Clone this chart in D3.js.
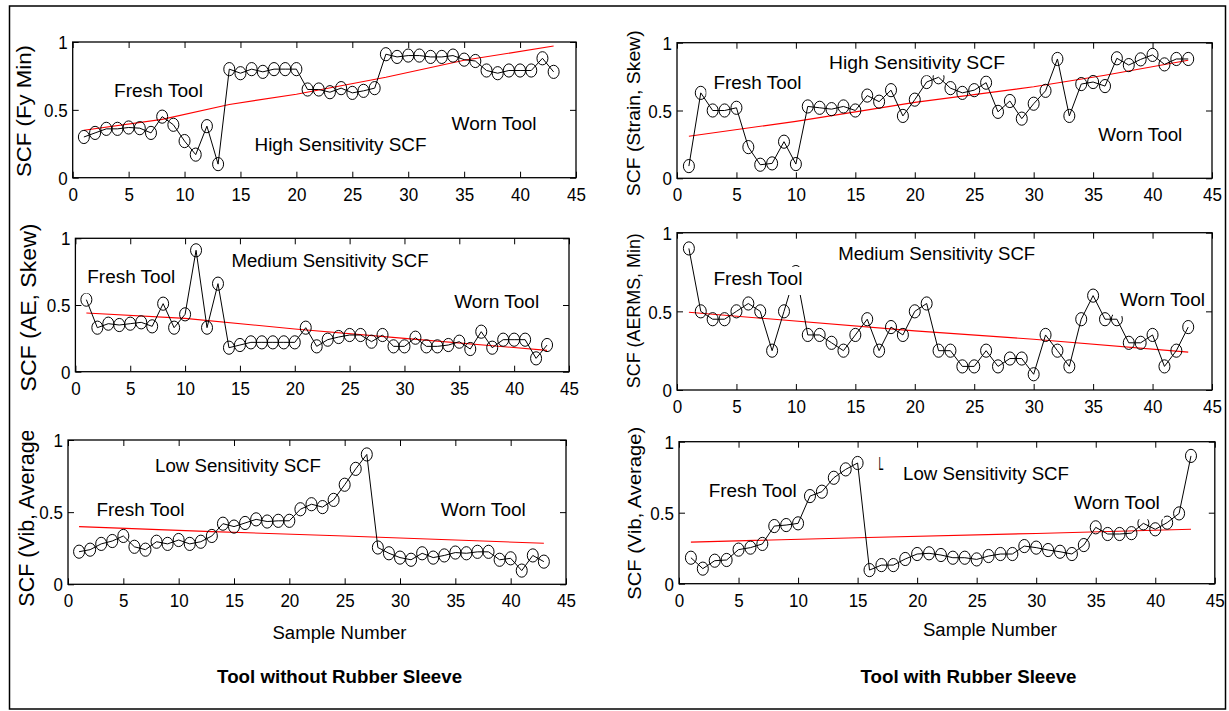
<!DOCTYPE html>
<html>
<head>
<meta charset="utf-8">
<script src="https://cdn.jsdelivr.net/npm/d3@7"></script>
<style>
  body { margin: 0; background: #fff; }
  svg { display: block; font-family: "Liberation Sans", Arial, sans-serif; }
</style>
</head>
<body>
<script>
// SCF vs sample number, tool with / without rubber sleeve

var sampleNo = [1,2,3,4,5,6,7,8,9,10,11,12,13,14,15,16,17,18,19,20,21,22,23,24,25,26,27,28,29,30,31,32,33,34,35,36,37,38,39,40,41,42,43];
var xTicks = [0,5,10,15,20,25,30,35,40,45];
var yTicks = [0,0.5,1];
var yTickLabels = ["0","0.5","1"];

// high sensitivity, no sleeve
var fyMin = [0.30,0.33,0.36,0.36,0.37,0.365,0.33,0.45,0.39,0.27,
             0.17,0.38,0.10,0.80,0.77,0.80,0.78,0.80,0.80,0.80,
             0.65,0.65,0.63,0.66,0.625,0.64,0.66,0.91,0.89,0.90,
             0.90,0.89,0.89,0.90,0.87,0.86,0.79,0.77,0.79,0.79,
             0.79,0.88,0.78];
var fyMinTrendX = [1,8,14,20,28,35,43];
var fyMinTrend  = [0.35,0.43,0.54,0.615,0.74,0.865,0.97];

// high sensitivity, sleeve
var strainSkew = [0.09,0.63,0.50,0.50,0.52,0.23,0.10,0.11,0.27,0.105,
                  0.53,0.52,0.51,0.53,0.50,0.61,0.565,0.65,0.46,0.58,
                  0.71,0.745,0.665,0.63,0.65,0.705,0.49,0.57,0.44,0.55,
                  0.645,0.88,0.46,0.695,0.71,0.68,0.885,0.835,0.877,0.91,
                  0.84,0.88,0.88];
var strainTrendX = [1,10,20,30,36,43];
var strainTrend  = [0.31,0.42,0.56,0.675,0.76,0.87];

// medium sensitivity, no sleeve
var aeSkew = [0.54,0.33,0.36,0.35,0.36,0.37,0.34,0.51,0.33,0.43,
              0.91,0.33,0.66,0.18,0.20,0.22,0.22,0.22,0.22,0.22,
              0.33,0.19,0.24,0.26,0.275,0.275,0.225,0.275,0.19,0.19,
              0.255,0.19,0.19,0.20,0.225,0.17,0.30,0.18,0.24,0.24,
              0.24,0.10,0.20];
var aeTrendX = [1,10,20,30,43];
var aeTrend  = [0.44,0.40,0.32,0.25,0.16];

// medium sensitivity, sleeve
var aermsMin = [0.90,0.50,0.45,0.45,0.50,0.55,0.50,0.25,0.50,0.75,
                0.35,0.35,0.30,0.25,0.35,0.45,0.25,0.40,0.35,0.50,
                0.55,0.25,0.25,0.15,0.15,0.25,0.15,0.20,0.20,0.10,
                0.35,0.25,0.15,0.45,0.60,0.45,0.45,0.30,0.30,0.35,
                0.15,0.25,0.40];
var aermsTrendX = [1,20,30,43];
var aermsTrend  = [0.494,0.376,0.323,0.241];

// low sensitivity, no sleeve
var vibAvgNoSleeve = [0.226,0.24,0.28,0.30,0.335,0.26,0.24,0.295,0.28,0.307,
                      0.28,0.295,0.335,0.42,0.40,0.425,0.45,0.435,0.44,0.44,
                      0.52,0.555,0.535,0.585,0.69,0.80,0.90,0.255,0.215,0.185,
                      0.17,0.215,0.185,0.20,0.22,0.215,0.225,0.225,0.17,0.18,
                      0.095,0.20,0.157];
var vibNoTrendX = [1,13,25,35,43];
var vibNoTrend  = [0.40,0.365,0.335,0.307,0.284];

// low sensitivity, sleeve
var vibAvgSleeve = [0.183,0.106,0.162,0.167,0.24,0.254,0.28,0.406,0.413,0.425,
                    0.617,0.648,0.746,0.805,0.85,0.096,0.131,0.131,0.174,0.209,
                    0.214,0.202,0.183,0.183,0.171,0.195,0.209,0.209,0.265,0.254,
                    0.237,0.225,0.209,0.272,0.397,0.35,0.35,0.356,0.425,0.383,
                    0.43,0.495,0.90];
var vibTrendX = [1,15,30,43];
var vibTrend  = [0.293,0.324,0.354,0.383];

var panels = [
  { vals: fyMin, tx: fyMinTrendX, ty: fyMinTrend, box: [72.7, 42, 576, 177.7],
    ylab: {text: "SCF (Fy  Min)", x: 31, y: 111, len: 132, size: 20},
    notes: [ {t: "Fresh Tool", x: 114, y: 97.3, len: 89},
             {t: "High  Sensitivity SCF", x: 254.5, y: 150.7, len: 172},
             {t: "Worn Tool", x: 451.6, y: 130, len: 85} ] },
  { vals: strainSkew, tx: strainTrendX, ty: strainTrend, box: [677, 42.7, 1212, 178.3],
    ylab: {text: "SCF (Strain,  Skew)", x: 639.6, y: 113.3, len: 166, size: 19},
    notes: [ {t: "High  Sensitivity SCF", x: 829, y: 69.3, len: 176, below: 6},
             {t: "Fresh Tool", x: 713.4, y: 89.3, len: 88},
             {t: "Worn Tool", x: 1098.3, y: 140.7, len: 84} ] },
  { vals: aeSkew, tx: aeTrendX, ty: aeTrend, box: [75.4, 238.3, 569, 371.7],
    ylab: {text: "SCF (AE, Skew)", x: 36, y: 307.5, len: 168, size: 22},
    notes: [ {t: "Medium Sensitivity SCF", x: 231.5, y: 266.7, len: 197},
             {t: "Fresh Tool", x: 87.3, y: 283.3, len: 88},
             {t: "Worn Tool", x: 454.2, y: 308.3, len: 85} ] },
  { vals: aermsMin, tx: aermsTrendX, ty: aermsTrend, box: [677, 232.7, 1212, 390],
    ylab: {text: "SCF (AERMS, Min)", x: 639.6, y: 310.7, len: 155, size: 19},
    notes: [ {t: "Medium Sensitivity SCF", x: 838.2, y: 260, len: 197},
             {t: "Fresh Tool", x: 713.4, y: 285, len: 89},
             {t: "Worn Tool", x: 1120, y: 306, len: 85} ] },
  { vals: vibAvgNoSleeve, tx: vibNoTrendX, ty: vibNoTrend, box: [68, 440, 566, 584.3],
    ylab: {text: "SCF (Vib, Average)", x: 34.3, y: 606.7, anchor: "start", size: 21.5, clipTop: 431},
    notes: [ {t: "Low Sensitivity SCF", x: 155, y: 472, len: 166},
             {t: "Fresh Tool", x: 96.4, y: 515.7, len: 88},
             {t: "Worn Tool", x: 440.8, y: 515.7, len: 85} ],
    xlab: {x: 339.5, y: 639, len: 134},
    title: {t: "Tool without Rubber Sleeve", x: 339.6, y: 682.7, len: 245} },
  { vals: vibAvgSleeve, tx: vibTrendX, ty: vibTrend, box: [679, 441.7, 1214.8, 583.7],
    ylab: {text: "SCF (Vib,  Average)", x: 640.7, y: 513.3, len: 173, size: 19},
    notes: [ {t: "Fresh Tool", x: 708.7, y: 497.3, len: 88},
             {t: "Low Sensitivity SCF", x: 903, y: 480, len: 166},
             {t: "Worn Tool", x: 1073.9, y: 509.3, len: 86},
             {t: "L", x: 878.5, y: 470, len: 5, nobox: true} ],
    xlab: {x: 990, y: 636, len: 134},
    title: {t: "Tool with Rubber Sleeve", x: 968.5, y: 683.3, len: 216} }
];

var svg = d3.select("body").append("svg")
  .attr("width", 1229)
  .attr("height", 711);

svg.append("rect")
  .attr("x", 9.5).attr("y", 6)
  .attr("width", 1216).attr("height", 703)
  .attr("fill", "none").attr("stroke", "#000").attr("stroke-width", 1.5);

var defs = svg.append("defs");
var sx = 0.92; // tick labels look a bit narrower than regular Arial

panels.forEach(function(p, i) {
  var x = d3.scaleLinear().domain([0, 45]).range([p.box[0], p.box[2]]);
  var y = d3.scaleLinear().domain([0, 1]).range([p.box[3], p.box[1]]);
  var g = svg.append("g");

  // red trend
  var trend = p.tx.map(function(d, k) { return [d, p.ty[k]]; });
  g.append("path")
    .attr("d", d3.line().x(function(d) { return x(d[0]); }).y(function(d) { return y(d[1]); })(trend))
    .attr("fill", "none").attr("stroke", "#ff0000").attr("stroke-width", 1.1);

  // black data line + circle markers
  g.append("path")
    .attr("d", d3.line().x(function(d, k) { return x(sampleNo[k]); }).y(function(d) { return y(d); })(p.vals))
    .attr("fill", "none").attr("stroke", "#000").attr("stroke-width", 1);

  g.selectAll("ellipse.m").data(p.vals).enter().append("ellipse")
    .attr("class", "m")
    .attr("cx", function(d, k) { return x(sampleNo[k]); })
    .attr("cy", function(d) { return y(d); })
    .attr("rx", 5.5).attr("ry", 6.6)
    .attr("fill", "none").attr("stroke", "#000").attr("stroke-width", 1);

  // annotations sit on white boxes that hide whatever is under them
  p.notes.forEach(function(n) {
    if (!n.nobox) {
      var below = n.below || 10;
      g.append("rect")
        .attr("x", n.x - 7).attr("y", n.y - 18)
        .attr("width", n.len + 11).attr("height", 18 + below)
        .attr("fill", "#fff");
    }
  });
  p.notes.forEach(function(n) {
    g.append("text")
      .attr("x", n.x).attr("y", n.y)
      .attr("font-size", 18)
      .attr("textLength", n.len).attr("lengthAdjust", "spacingAndGlyphs")
      .text(n.t);
  });

  // axes: MATLAB style box, inward ticks on all sides
  var bottom = g.append("g").attr("transform", "translate(0," + p.box[3] + ")")
    .call(d3.axisBottom(x).tickValues(xTicks).tickSize(-6).tickFormat(d3.format("d")));
  bottom.selectAll("text")
    .attr("y", 23).attr("dy", null)
    .attr("font-size", 18.5)
    .attr("transform", "scale(" + sx + ",1)");
  var left = g.append("g").attr("transform", "translate(" + p.box[0] + ",0)")
    .call(d3.axisLeft(y).tickValues(yTicks).tickSize(-6)
      .tickFormat(function(d, k) { return yTickLabels[k]; }));
  left.selectAll("text")
    .attr("x", -5 / sx).attr("dy", "0.36em")
    .attr("font-size", 18.5)
    .attr("transform", "scale(" + sx + ",1)");
  g.append("g").attr("transform", "translate(0," + p.box[1] + ")")
    .call(d3.axisTop(x).tickValues(xTicks).tickSize(-6).tickFormat(""));
  g.append("g").attr("transform", "translate(" + p.box[2] + ",0)")
    .call(d3.axisRight(y).tickValues(yTicks).tickSize(-6).tickFormat(""));
  g.selectAll(".domain").remove();
  g.selectAll(".tick line").attr("stroke", "#000");
  g.selectAll(".tick text").attr("fill", "#000").attr("font-family", null);

  g.append("rect")
    .attr("x", p.box[0]).attr("y", p.box[1])
    .attr("width", p.box[2] - p.box[0]).attr("height", p.box[3] - p.box[1])
    .attr("fill", "none").attr("stroke", "#000").attr("stroke-width", 1.3);

  // y label (the bottom-left one is cut off at the top in the original)
  var ylHolder = g.append("g");
  if (p.ylab.clipTop) {
    defs.append("clipPath").attr("id", "ylclip" + i)
      .append("rect").attr("x", 0).attr("y", p.ylab.clipTop).attr("width", 100).attr("height", 300);
    ylHolder.attr("clip-path", "url(#ylclip" + i + ")");
  }
  var yl = ylHolder.append("text")
    .attr("transform", "translate(" + p.ylab.x + "," + p.ylab.y + ")rotate(-90)")
    .attr("font-size", p.ylab.size)
    .attr("text-anchor", p.ylab.anchor || "middle")
    .text(p.ylab.text);
  if (p.ylab.len) yl.attr("textLength", p.ylab.len).attr("lengthAdjust", "spacingAndGlyphs");

  if (p.xlab) {
    g.append("text")
      .attr("x", p.xlab.x).attr("y", p.xlab.y)
      .attr("text-anchor", "middle").attr("font-size", 18)
      .attr("textLength", p.xlab.len).attr("lengthAdjust", "spacingAndGlyphs")
      .text("Sample Number");
  }
  if (p.title) {
    g.append("text")
      .attr("x", p.title.x).attr("y", p.title.y)
      .attr("text-anchor", "middle").attr("font-size", 18).attr("font-weight", "bold")
      .attr("textLength", p.title.len).attr("lengthAdjust", "spacingAndGlyphs")
      .text(p.title.t);
  }
});
</script>
</body>
</html>
